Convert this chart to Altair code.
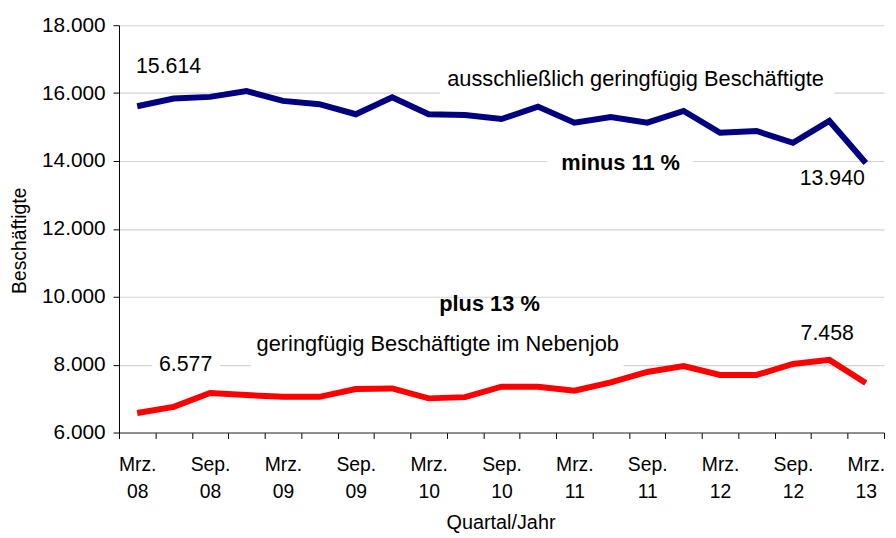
import altair as alt
import pandas as pd

# Quarters (Mrz. 08 ... Mrz. 13)
quarters = ["Mrz. 08", "Jun. 08", "Sep. 08", "Dez. 08",
            "Mrz. 09", "Jun. 09", "Sep. 09", "Dez. 09",
            "Mrz. 10", "Jun. 10", "Sep. 10", "Dez. 10",
            "Mrz. 11", "Jun. 11", "Sep. 11", "Dez. 11",
            "Mrz. 12", "Jun. 12", "Sep. 12", "Dez. 12",
            "Mrz. 13"]
ausschl = [15614, 15840, 15890, 16060, 15772, 15674, 15378, 15880,
           15378, 15357, 15238, 15603, 15130, 15298, 15130, 15476,
           14833, 14883, 14537, 15180, 13940]
nebenjob = [6577, 6757, 7163, 7104, 7053, 7053, 7281, 7300,
            7006, 7044, 7349, 7349, 7231, 7479, 7784, 7960,
            7696, 7696, 8020, 8140, 7458]
series_names = ["ausschließlich geringfügig Beschäftigte",
                "geringfügig Beschäftigte im Nebenjob"]
series_colors = ["#000080", "#ff0000"]

y_ticks = [6000, 8000, 10000, 12000, 14000, 16000, 18000]

# annotations (x in quarter index, y in value)
num_text = ["15.614", "13.940", "7.458", "6.577"]
num_x = [0.86, 19.08, 18.94, 1.33]
num_y = [16779, 13461, 8908, 8000]
word_text = ["ausschließlich geringfügig Beschäftigte",
             "geringfügig Beschäftigte im Nebenjob"]
word_x = [13.68, 8.25]
word_y = [16424, 8615]
bold_text = ["minus  11 %", "plus 13 %"]
bold_x = [13.27, 9.67]
bold_y = [13935, 9796]

# white boxes behind labels (hide gridlines)
box_x = [8.31, 11.25, 0.40, 3.13]
box_x2 = [19.13, 15.26, 2.28, 13.35]
box_y = [16898, 14350, 8287, 9059]
box_y2 = [15890, 13580, 7695, 7873]

rows = []
for name, vals in zip(series_names, [ausschl, nebenjob]):
    for i, (q, v) in enumerate(zip(quarters, vals)):
        rows.append({"idx": i, "quartal": q, "value": v, "series": name})
df = pd.DataFrame(rows)

# tick labels at band boundaries shifted to the band centre
lab = []
for k in range(22):
    if k % 2 == 0 and k < len(quarters):
        m, yy = quarters[k].split(" ")
        lab.append("['%s','%s']" % (m, yy))
    else:
        lab.append("''")
label_expr = "[" + ",".join(lab) + "][datum.value + 0.5]"

FONT = "Liberation Sans"
W = 772
BAND = W / 21.0

x_scale = alt.Scale(domain=[-0.5, 20.5], nice=False, zero=False)
y_scale = alt.Scale(domain=[6000, 18000], nice=False, zero=False)

x_axis = alt.Axis(values=[k - 0.5 for k in range(22)], labelExpr=label_expr,
                  labelOffset=BAND / 2, labelOverlap=False, labelBound=False,
                  labelFlush=False,
                  labelFontSize=19.5, labelLineHeight=28, labelBaseline="top",
                  labelPadding=17, labelColor="#000", labelFont=FONT,
                  tickSize=6, tickColor="#000", domainColor="#333", grid=False,
                  title="Quartal/Jahr", titleFontSize=20, titleFontWeight="normal",
                  titleFont=FONT, titleColor="#000", titleX=385, titleY=91,
                  titleBaseline="middle", titleAlign="center")
y_axis = alt.Axis(values=y_ticks,
                  labelExpr="replace(format(datum.value, ','), ',', '.')",
                  labelFontSize=21, labelFont=FONT, labelColor="#000", labelPadding=8,
                  tickSize=6, tickColor="#000", domainColor="#000",
                  grid=True, gridColor="#d4d4d4", gridWidth=1.2,
                  title="Beschäftigte", titleFontSize=19.5, titleFontWeight="normal",
                  titleFont=FONT, titleColor="#000", titleX=-100, titleY=217,
                  titleAngle=-90, titleBaseline="middle", titleAlign="center")

X = lambda f: alt.X(f, scale=x_scale, axis=x_axis)
Y = lambda f: alt.Y(f, scale=y_scale, axis=y_axis)

lines = alt.Chart(df).mark_line(strokeWidth=6).encode(
    x=X("idx:Q"), y=Y("value:Q"),
    color=alt.Color("series:N", scale=alt.Scale(domain=series_names, range=series_colors),
                    legend=None),
    detail="series:N",
)

boxes = alt.Chart(pd.DataFrame({"x": box_x, "x2": box_x2, "y": box_y, "y2": box_y2})).mark_rect(
    color="white").encode(x=X("x:Q"), x2="x2:Q", y=Y("y:Q"), y2="y2:Q")

nums = alt.Chart(pd.DataFrame({"x": num_x, "y": num_y, "t": num_text})).mark_text(
    fontSize=21.5, font=FONT, color="#000", baseline="middle", align="center").encode(
    x=X("x:Q"), y=Y("y:Q"), text="t:N")

words = alt.Chart(pd.DataFrame({"x": word_x, "y": word_y, "t": word_text})).mark_text(
    fontSize=22, font=FONT, color="#000", baseline="middle", align="center").encode(
    x=X("x:Q"), y=Y("y:Q"), text="t:N")

btexts = alt.Chart(pd.DataFrame({"x": bold_x, "y": bold_y, "t": bold_text})).mark_text(
    fontSize=22, font=FONT, fontWeight="bold", color="#000", baseline="middle",
    align="center").encode(x=X("x:Q"), y=Y("y:Q"), text="t:N")

chart = alt.layer(boxes, lines, nums, words, btexts).properties(
    width=W, height=411,
    autosize=alt.AutoSizeParams(type="none"),
    padding={"left": 112, "top": 15, "right": 4, "bottom": 100},
).configure(background="white").configure_view(stroke=None)

chart.save("out.html", embed_options={"renderer": "svg", "actions": False})
